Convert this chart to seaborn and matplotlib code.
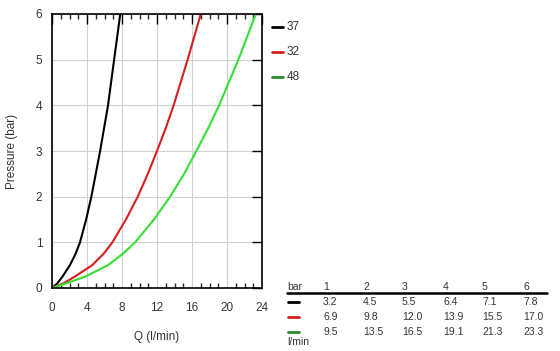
import matplotlib as mpl
mpl.use('Agg')
import matplotlib.pyplot as plt
from matplotlib.lines import Line2D
from matplotlib.ticker import MultipleLocator
import seaborn as sns
import pandas as pd

# flow (l/min) at each pressure step
pressure = [0, 0.1, 0.25, 0.5, 0.75, 1, 1.5, 2, 2.5, 3, 3.5, 4, 4.5, 5, 5.5, 6]
q_37 = [0, 0.6, 1.2, 2.05, 2.7, 3.2, 3.9, 4.5, 5.0, 5.5, 5.95, 6.4, 6.75, 7.1, 7.45, 7.8]
q_32 = [0, 1.3, 2.6, 4.6, 5.9, 6.9, 8.45, 9.8, 10.95, 12.0, 13.0, 13.9, 14.7, 15.5, 16.25, 17.0]
q_48 = [0, 1.6, 3.8, 6.4, 8.1, 9.5, 11.65, 13.5, 15.1, 16.5, 17.85, 19.1, 20.2, 21.3, 22.3, 23.3]
series = ['37', '32', '48']
line_colors = ['#000000', '#d42020', '#33e033']
key_colors = ['#000000', '#d42020', '#2a8a2a']

# table values
table_bar = ['1', '2', '3', '4', '5', '6']
table_rows = [['3.2', '4.5', '5.5', '6.4', '7.1', '7.8'],
              ['6.9', '9.8', '12.0', '13.9', '15.5', '17.0'],
              ['9.5', '13.5', '16.5', '19.1', '21.3', '23.3']]

frames = []
for name, q in zip(series, [q_37, q_32, q_48]):
	frames.append(pd.DataFrame({'Q': q, 'P': pressure, 'type': name}))
df = pd.concat(frames, ignore_index=True)

sns.set_style('white')
plt.rcParams['font.family'] = ['Liberation Sans', 'DejaVu Sans']

fig = plt.figure(figsize=(5.6, 3.51), dpi=100)
ax = fig.add_axes([52 / 560, 63 / 351, 210 / 560, 274 / 351])

sns.lineplot(data=df, x='Q', y='P', hue='type', palette=line_colors,
             hue_order=series, sort=False, estimator=None, lw=1.5, ax=ax, legend=False)

ax.set_xlim(0, 24)
ax.set_ylim(0, 6)
ax.xaxis.set_major_locator(MultipleLocator(4))
ax.xaxis.set_minor_locator(MultipleLocator(1))
ax.yaxis.set_major_locator(MultipleLocator(1))
ax.grid(True, which='major', color='#d0d0d0', lw=0.8)
ax.set_axisbelow(True)
ax.tick_params(axis='both', which='major', direction='in', length=7, width=1,
               top=True, right=True, labelsize=8.5, colors='#000000', labelcolor='#333333')
ax.tick_params(axis='x', which='major', pad=10)
ax.tick_params(axis='y', which='major', pad=7)
ax.tick_params(axis='x', which='minor', direction='in', length=3.5, width=1, top=True, bottom=True)
for s in ax.spines.values():
	s.set_color('#000000')
	s.set_linewidth(1.2)
ax.set_xlabel('Q (l/min)', fontsize=8.5, color='#333333', labelpad=12)
ax.set_ylabel('Pressure (bar)', fontsize=8.5, color='#333333', labelpad=13)

# legend at the right of the plot
for i, (name, c) in enumerate(zip(series, key_colors)):
	y = 1 - (27 + 25 * i) / 351
	fig.add_artist(Line2D([272 / 560, 283 / 560], [y, y], color=c, lw=2))
	fig.text(287 / 560, y, name, fontsize=8.5, color='#333333', va='center')

# table below the legend
col_x = [323, 363, 402, 443, 482, 523]
fs = 7.5
hy = 1 - 287 / 351
fig.text(287 / 560, hy, 'bar', fontsize=fs, color='#333333', va='center')
for x, t in zip(col_x, table_bar):
	fig.text(x / 560, hy, t, fontsize=fs, color='#333333', va='center')
fig.add_artist(Line2D([287 / 560, 547 / 560], [1 - 293 / 351, 1 - 293 / 351], color='black', lw=1.8))
for r, (row, c) in enumerate(zip(table_rows, key_colors)):
	ry = 1 - (302 + 15 * r) / 351
	fig.add_artist(Line2D([288 / 560, 299 / 560], [ry, ry], color=c, lw=2))
	for x, t in zip(col_x, row):
		fig.text(x / 560, ry, t, fontsize=fs, color='#333333', va='center')
fig.text(287 / 560, 1 - 342 / 351, 'l/min', fontsize=fs, color='#333333', va='center')

fig.savefig('out.png', dpi=100)
